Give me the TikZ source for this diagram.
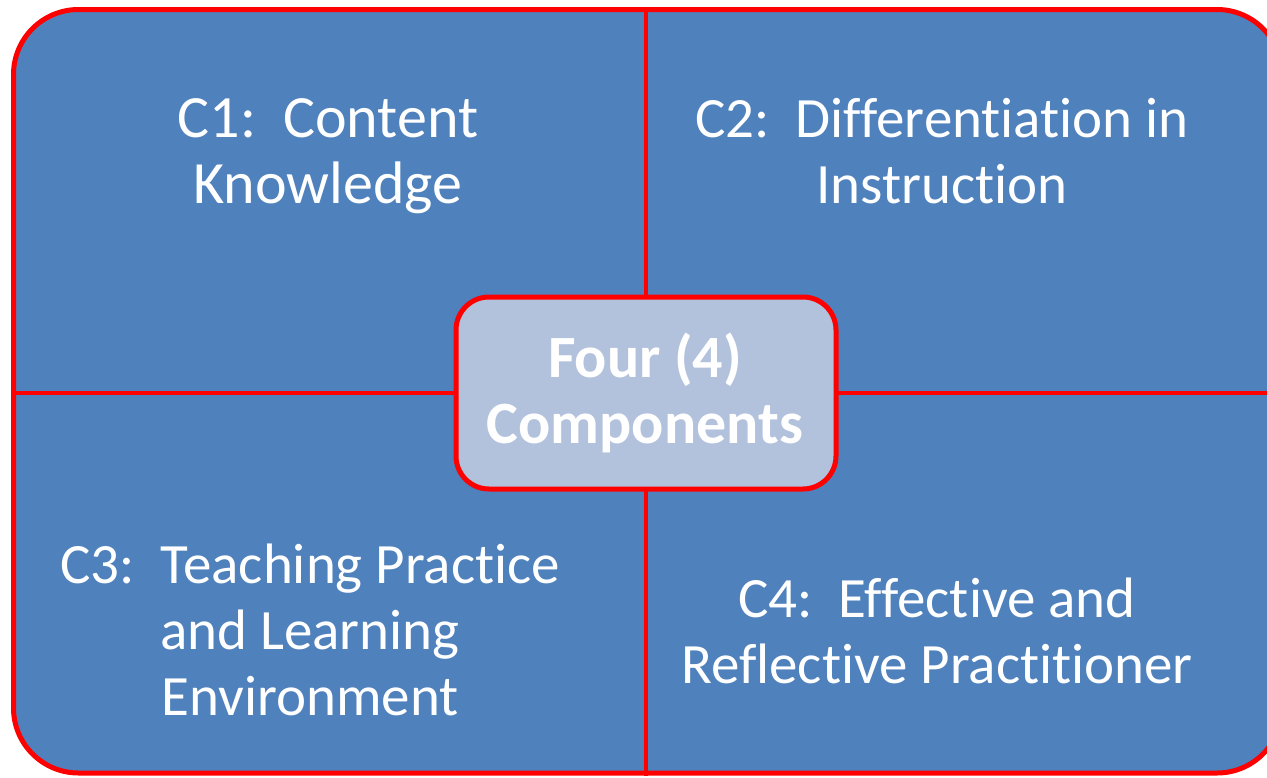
\documentclass[tikz,border=0pt]{standalone}
\usepackage{fontspec}
\setmainfont{Carlito}[Ligatures=NoCommon]
\definecolor{quadblue}{HTML}{4F81BD}
\definecolor{hubfill}{HTML}{B2C1DC}
\definecolor{edgered}{HTML}{FF0000}
\begin{document}
\begin{tikzpicture}[x=1pt,y=-1pt,
  frame/.style={draw=edgered, line width=5pt, fill=quadblue, rectangle, rounded corners=65pt, inner sep=0pt, minimum width=1268.5pt, minimum height=763.5pt},
  divider/.style={draw=edgered, line width=4.5pt},
  hub/.style={draw=edgered, line width=5pt, fill=hubfill, rectangle, rounded corners=33pt, inner sep=0pt, minimum width=380pt, minimum height=192pt},
  hubtext/.style={text=white, font=\fontsize{60}{66}\selectfont\bfseries, inner sep=0pt, anchor=base},
  label/.style={text=white, font=\fontsize{60}{66}\selectfont, align=center, inner sep=0pt, anchor=base},
  smalllabel/.style={label, font=\fontsize{57}{66}\selectfont}
]
\clip (0,0) rectangle (1267,777);
\useasboundingbox (0,0) rectangle (1267,777);
\node[frame] (outer) at (647.75,391.25) {};
\coordinate (mid) at (646,393);
\draw[divider] (mid |- outer.north) -- (mid |- outer.south);
\draw[divider] (mid -| outer.west) -- (mid -| outer.east);
\node[hub] (hub) at (mid) {};
\node[hubtext] (hubA) at (645,377) {Four (4)};
\node[hubtext] (hubB) at (645,443) {Components};
\node[label] (c1) at (328,203) {C1:\ \ Content\\Knowledge};
\node[smalllabel] (c2) at (942,203) {C2:\ \ Differentiation in\\Instruction};
\node[smalllabel] (c3) at (310,715) {C3:\ \ Teaching Practice\\and Learning\\Environment};
\node[smalllabel] (c4) at (937,683) {C4:\ \ Effective and\\Reflective Practitioner};
\end{tikzpicture}
\end{document}
